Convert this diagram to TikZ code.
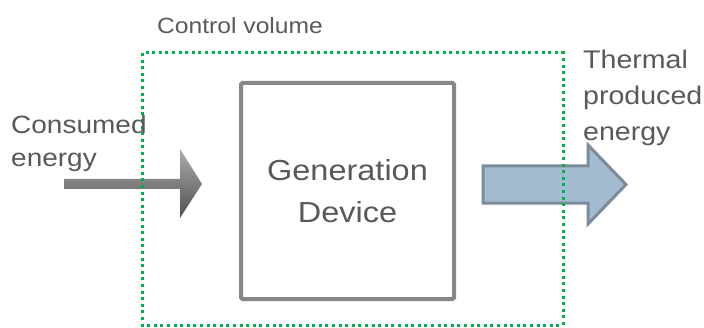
\documentclass[tikz,border=0pt]{standalone}
\usepackage{fontspec}
\setmainfont{Liberation Sans}[FakeStretch=1.12]
\usetikzlibrary{shadows}
\definecolor{txtgray}{HTML}{595959}
\definecolor{boxgray}{HTML}{878787}
\definecolor{cvgreen}{HTML}{00B050}
\definecolor{outfill}{HTML}{A3BCD2}
\definecolor{outline}{HTML}{7D8C9B}
\tikzset{
  lbl/.style={text=txtgray, inner sep=0pt, align=left},
  devicebox/.style={draw=boxgray, line width=4pt, fill=white, rounded corners=1.5pt,
    drop shadow={shadow xshift=1.5pt, shadow yshift=-1.5pt, opacity=0.25}},
  cvbox/.style={draw=cvgreen, line width=3pt, dash pattern=on 3pt off 3.6pt},
}
\begin{document}
\begin{tikzpicture}[x=1pt,y=1pt]
\useasboundingbox (0,0) rectangle (704,327);
% incoming energy arrow (grey gradient)
\shade[top color=black!33, bottom color=black!68]
  (64,148) -- (180,148) -- (180,178) -- (202,143) -- (180,109) -- (180,138) -- (64,138) -- cycle;
% outgoing thermal energy arrow
\draw[fill=outfill, draw=outline, line width=3pt, line join=miter]
  (483,161) -- (588,161) -- (588,182) -- (626,142.5) -- (588,103) -- (588,124) -- (483,124) -- cycle;
% generation device
\node[devicebox, minimum width=213pt, minimum height=216pt] (dev) at (347.5,136) {};
\node[lbl, font=\fontsize{29}{42}\selectfont, align=center] (devtxt) at (347.5,135.5) {Generation\\Device};
% control volume boundary
\draw[cvbox] (142,274) rectangle (563,2);
% labels
\node[lbl, font=\fontsize{22}{26}\selectfont, anchor=base west] (cvlbl) at (157,293) {Control volume};
\node[lbl, font=\fontsize{25}{33}\selectfont, anchor=north west] (inlbl) at (11,212) {Consumed\\energy};
\node[lbl, font=\fontsize{25.5}{36}\selectfont, anchor=north west] (outlbl) at (583,277) {Thermal\\produced\\energy};
\end{tikzpicture}
\end{document}
